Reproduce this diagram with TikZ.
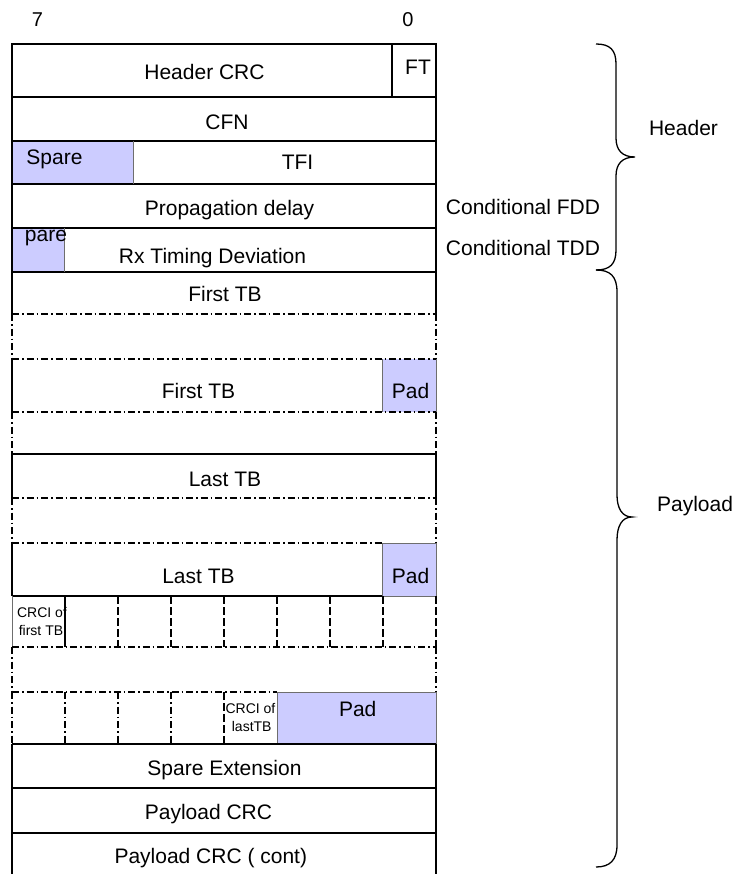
\documentclass[tikz,border=0pt]{standalone}
\usepackage{fontspec}
\setmainfont{Liberation Sans}
\definecolor{padfill}{RGB}{204,204,255}
\definecolor{thingray}{RGB}{110,110,110}
\begin{document}
\begin{tikzpicture}[x=1pt,y=-1pt,
  solidl/.style={line width=1.5pt, black},
  dashdotl/.style={line width=1.5pt, black, dash pattern=on 7pt off 3pt on 1.5pt off 3pt},
  dashedl/.style={line width=1.1pt, black, dash pattern=on 8pt off 3pt},
  thinl/.style={line width=0.9pt, thingray},
  padbox/.style={fill=padfill},
  txt/.style={inner sep=0pt, anchor=base, font=\fontsize{21}{24}\selectfont},
  smalltxt/.style={inner sep=0pt, anchor=base, font=\fontsize{14}{16}\selectfont},
  bitnum/.style={inner sep=0pt, anchor=base, font=\fontsize{20}{22}\selectfont},
  bracel/.style={line width=1.3pt, black}]
\useasboundingbox (0,0) rectangle (735,874);
\begin{scope}
\clip (0,0) rectangle (735,874);
% fills
\fill[padbox] (12,141) rectangle (133,184);
\fill[padbox] (12,228) rectangle (64,272);
\fill[padbox] (382,359) rectangle (436,412);
\fill[padbox] (382,543) rectangle (436,596);
\fill[padbox] (277,692) rectangle (436,744);
% header block
\draw[solidl] (12,314) -- (12,44) -- (436,44) -- (436,314);
\foreach \yy in {97,141,184,228,272} \draw[solidl] (12,\yy) -- (436,\yy);
\draw[line width=1.1pt] (392,44) -- (392,97);
\draw[thinl] (133,141) -- (133,184);
\draw[thinl] (64,228) -- (64,272);
% first TB area
\draw[dashdotl] (12,314) -- (436,314);
\draw[dashdotl] (12,314) -- (12,359);
\draw[dashdotl] (436,314) -- (436,359);
\draw[dashdotl] (12,359) -- (436,359);
\draw[solidl] (12,359) -- (12,412);
\draw[thinl] (382,359) -- (382,412);
\draw[thinl] (436,359) -- (436,412);
\draw[dashdotl] (12,412) -- (436,412);
\draw[dashdotl] (12,412) -- (12,454);
\draw[dashdotl] (436,412) -- (436,454);
% last TB area
\draw[solidl] (12,498) -- (12,454) -- (436,454) -- (436,498);
\draw[dashdotl] (12,498) -- (436,498);
\draw[dashdotl] (12,498) -- (12,543);
\draw[dashdotl] (436,498) -- (436,543);
\draw[dashdotl] (12,543) -- (382,543);
\draw[thinl] (382,543) -- (436,543);
\draw[solidl] (12,543) -- (12,596);
\draw[thinl] (382,543) -- (382,596);
\draw[thinl] (436,543) -- (436,596);
\draw[solidl] (12,596) -- (382,596);
\draw[thinl] (382,596) -- (436,596);
% CRCI rows
\draw[thinl] (12,596) -- (12,647);
\draw[line width=1.1pt] (65,596) -- (65,647);
\foreach \xx in {118,171,224,277,330,383} \draw[dashedl] (\xx,596) -- (\xx,647);
\draw[dashedl] (436,596) -- (436,647);
\draw[dashdotl] (12,647) -- (436,647);
\draw[dashdotl] (12,647) -- (12,692);
\draw[dashdotl] (436,647) -- (436,692);
\draw[dashdotl] (12,692) -- (277,692);
\draw[thinl] (277,692) -- (436,692);
\draw[dashdotl] (12,692) -- (12,744);
\foreach \xx in {65,118,171} \draw[dashdotl] (\xx,692) -- (\xx,744);
\draw[dashedl] (224,692) -- (224,744);
\draw[thinl] (277,692) -- (277,744);
\draw[thinl] (436,692) -- (436,744);
% trailer
\draw[solidl] (12,744) -- (436,744);
\draw[solidl] (12,744) -- (12,880);
\draw[solidl] (436,744) -- (436,880);
\draw[solidl] (12,788) -- (436,788);
\draw[solidl] (12,833) -- (436,833);
% braces
\draw[bracel] (596,44) .. controls (610,44) and (616,50) .. (616,64) -- (616,138)
  .. controls (616,150) and (622,157) .. (635,157)
  .. controls (622,157) and (616,164) .. (616,176) -- (616,250)
  .. controls (616,264) and (610,270) .. (596,270);
\draw[bracel] (596,270) .. controls (610,270) and (617,276) .. (617,292) -- (617,495)
  .. controls (617,508) and (622,517) .. (632,517)
  .. controls (622,517) and (617,526) .. (617,540) -- (617,845)
  .. controls (617,860) and (610,867) .. (596,867);
\end{scope}
% texts
\node[bitnum] (b7) at (37.5,27) {7};
\node[bitnum] (b0) at (408,27) {0};
\node[txt] (hcrc) at (204.5,79.3) {Header CRC};
\node[txt] (ft) at (418,75) {FT};
\node[txt] (cfn) at (227,130) {CFN};
\node[txt] (spare) at (54.5,165) {Spare};
\node[txt] (tfi) at (297.5,170) {TFI};
\node[txt] (pdelay) at (229.5,216) {Propagation delay};
\node[txt] (pare) at (46,242) {pare};
\node[txt] (rxtd) at (212.5,264) {Rx Timing Deviation};
\node[txt] (ftb1) at (225,301.7) {First TB};
\node[txt] (ftb2) at (198.5,398.3) {First TB};
\node[txt] (pad1) at (410.5,398.3) {Pad};
\node[txt] (ltb1) at (225,486.7) {Last TB};
\node[txt] (ltb2) at (198.5,583.3) {Last TB};
\node[txt] (pad2) at (410.5,583.3) {Pad};
\node[smalltxt] (crcif1) at (42,617) {CRCI of};
\node[smalltxt] (crcif2) at (41,635.7) {first TB};
\node[smalltxt] (crcil1) at (250.5,713.3) {CRCI of};
\node[smalltxt] (crcil2) at (251.7,731.7) {lastTB};
\node[txt] (pad3) at (357.7,716.7) {Pad};
\node[txt] (spext) at (224.5,775) {Spare Extension};
\node[txt] (pcrc) at (208.5,819.3) {Payload CRC};
\node[txt] (pcrc2) at (210.8,863.3) {Payload CRC ( cont)};
\node[txt] (hdr) at (683.5,136) {Header};
\node[txt] (cfdd) at (523,215) {Conditional FDD};
\node[txt] (ctdd) at (523,255) {Conditional TDD};
\node[txt] (pld) at (695,511.7) {Payload};
\end{tikzpicture}
\end{document}
